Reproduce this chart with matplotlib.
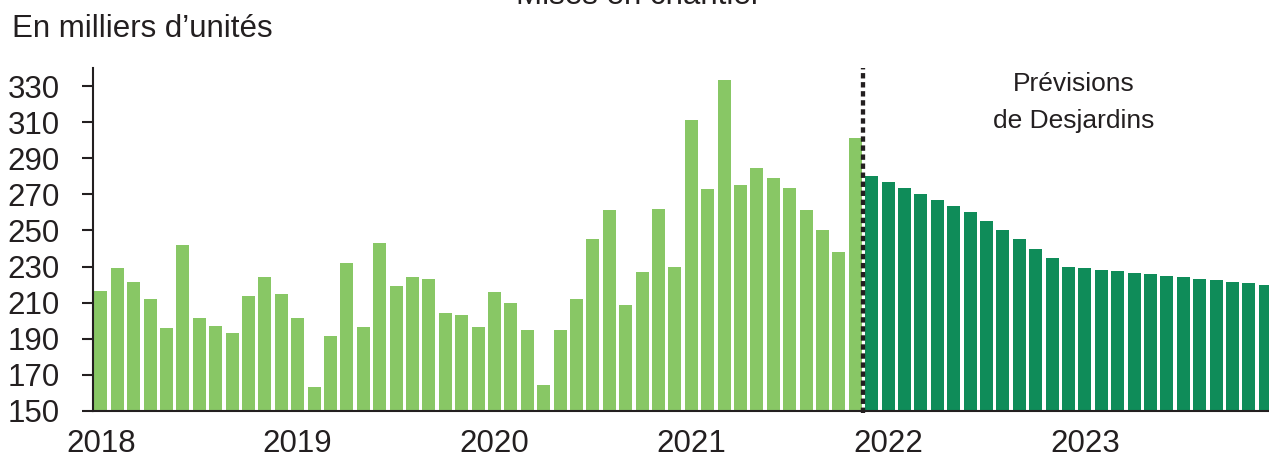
import matplotlib
matplotlib.use("Agg")
import matplotlib.pyplot as plt
import numpy as np

# Mises en chantier, monthly, in thousands of units
months = [f"{y}-{m:02d}" for y in range(2018, 2024) for m in range(1, 13)]
actual = [216.6, 229.4, 221.3, 211.9, 196.2, 241.8, 201.4, 197.1, 193.4, 213.7, 224.4, 215.0,
          201.7, 163.3, 191.6, 232.2, 196.5, 243.1, 219.3, 224.2, 223.0, 204.1, 203.0, 196.5,
          216.1, 209.8, 194.9, 164.4, 194.9, 211.9, 245.1, 261.4, 208.9, 227.0, 261.9, 229.6,
          311.0, 272.8, 333.2, 275.0, 284.5, 278.9, 273.4, 261.5, 250.3, 238.3, 301.4]
forecast = [280.0,
            276.7, 273.4, 270.1, 266.7, 263.4, 260.1, 255.1, 250.1, 245.1, 239.9, 234.9, 229.9,
            229.2, 228.3, 227.4, 226.6, 225.7, 225.0, 224.1, 223.3, 222.4, 221.6, 220.7, 219.9]
year_labels = ["2018", "2019", "2020", "2021", "2022", "2023"]
y_ticks = list(range(150, 331, 20))

LIGHT = "#88C765"
DARK = "#0F8C59"
INK = "#231F20"

plt.rcParams["font.family"] = ["Liberation Sans", "DejaVu Sans"]

fig = plt.figure(figsize=(12.69, 4.59), dpi=100)
ax = fig.add_axes([0.0730, 0.1046, 0.9270, 0.7473])

x_act = np.arange(len(actual))
x_fc = np.arange(len(actual), len(actual) + len(forecast))
ax.bar(x_act, np.array(actual) - 150, bottom=150, width=0.79, color=LIGHT, linewidth=0)
ax.bar(x_fc, np.array(forecast) - 150, bottom=150, width=0.79, color=DARK, linewidth=0)

# forecast boundary
ax.axvline(len(actual) - 0.5, ymin=-0.006, ymax=1.0, color=INK, lw=3.1,
           linestyle=(0, (1.25, 0.85)), dash_capstyle="butt", clip_on=False, zorder=5)

ax.set_xlim(-0.5, 71.23)
ax.set_ylim(150, 340)
ax.set_yticks(y_ticks)
ax.set_xticks([months.index(f"{y}-01") for y in year_labels])
ax.set_xticklabels(year_labels)

for s in ("top", "right"):
    ax.spines[s].set_visible(False)
for s in ("left", "bottom"):
    ax.spines[s].set_linewidth(1.5)
    ax.spines[s].set_color(INK)

ax.tick_params(axis="y", length=7.9, width=1.5, color=INK, pad=16, labelsize=22.5, labelcolor=INK)
ax.tick_params(axis="x", length=0, pad=13, labelsize=22.5, labelcolor=INK)

fig.text(0.00946, 0.9187, "En milliers d\u2019unités", fontsize=22.5, color=INK, va="baseline")
fig.text(0.503, 1 - 3.8 / 459, "Mises en chantier", fontsize=22.5, color=INK,
         va="baseline", ha="center")
fig.text(1074 / 1269, 1 - 90.7 / 459, "Prévisions", fontsize=19, color=INK,
         va="baseline", ha="center")
fig.text(1074 / 1269, 1 - 128 / 459, "de Desjardins", fontsize=19, color=INK,
         va="baseline", ha="center")

fig.savefig("out.png", dpi=100)
